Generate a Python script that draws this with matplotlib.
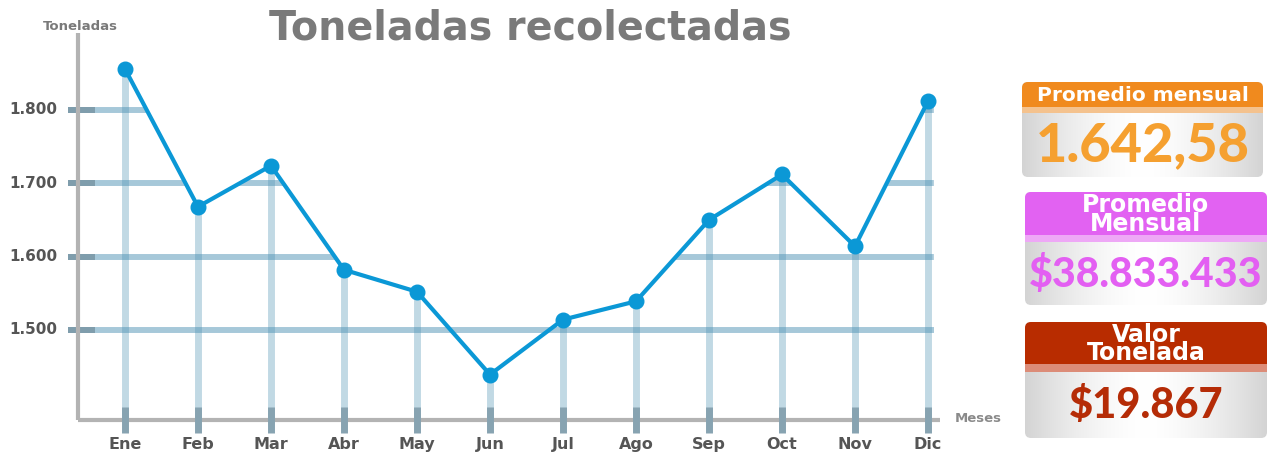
import numpy as np
import matplotlib
matplotlib.use("Agg")
from matplotlib import pyplot as plt
from matplotlib.patches import FancyBboxPatch, Polygon, Rectangle

# datos
meses = ["Ene", "Feb", "Mar", "Abr", "May", "Jun", "Jul", "Ago", "Sep", "Oct", "Nov", "Dic"]
toneladas = [1856, 1668, 1724, 1582, 1552, 1439, 1514, 1539, 1650, 1712, 1614, 1812]
y_ticks = [1500, 1600, 1700, 1800]
y_tick_labels = ["1.500", "1.600", "1.700", "1.800"]

titulo = "Toneladas recolectadas"
tarjetas = [
    ("Promedio mensual", "1.642,58"),
    ("Promedio\nMensual", "$38.833.433"),
    ("Valor\nTonelada", "$19.867"),
]

plt.rcParams['font.family'] = ['DejaVu Sans']
W, H = 1270, 455
fig = plt.figure(figsize=(W / 100, H / 100), dpi=100)

# ejes principales (en pixeles: x 60-945, y 30-435)
ax = fig.add_axes([60 / W, 1 - 435 / H, 885 / W, 405 / H])
ax.set_xlim(-0.890, 11.233)
ax.set_ylim(1356.6, 1909.1)
ax.axis('off')

x = np.arange(len(meses))
base = 1377.1
xl, xr = -0.644, 11.164

# lineas horizontales recortadas bajo la curva (la mas baja entera)
clip_verts = [(-0.8, toneladas[0])] + list(zip(x, toneladas)) + \
             [(11.08, toneladas[-1]), (11.08, 1300), (-0.8, 1300)]
clip_poly = Polygon(clip_verts, transform=ax.transData, fill=False, visible=False)
ax.add_patch(clip_poly)
for k, (yv, lab) in enumerate(zip(y_ticks, y_tick_labels)):
    ln, = ax.plot([-0.78, 11.08], [yv, yv], color='#4f93b4', alpha=0.5, lw=4.3,
                  solid_capstyle='butt', zorder=1)
    if k > 0:
        ln.set_clip_path(clip_poly)
    ax.plot([-0.78, -0.41], [yv, yv], color='#7f9dac', lw=4.3,
            solid_capstyle='butt', zorder=2)
    ax.text(-0.92, yv, lab, ha='right', va='center',
            fontsize=11, fontweight='bold', color='#555555', clip_on=False)

# barras verticales
for xi, yv in zip(x, toneladas):
    ax.plot([xi, xi], [base, yv], color='#4f93b4', alpha=0.35, lw=5,
            solid_capstyle='butt', zorder=1)
    ax.plot([xi, xi], [1360, 1395], color='#87a3b1', lw=5,
            solid_capstyle='butt', zorder=3)
    ax.text(xi, 1344, meses[xi], ha='center', va='center', fontsize=11.5,
            fontweight='bold', color='#555555', clip_on=False)

# ejes grises
ax.plot([xl, xl], [base, 1905], color='#b3b3b3', lw=3, solid_capstyle='butt', zorder=2)
ax.plot([xl, xr], [base, base], color='#b3b3b3', lw=3, solid_capstyle='butt', zorder=2)

# curva
ax.plot(x, toneladas, color='#0b98d6', lw=3, marker='o', markersize=10.5, zorder=5)

# textos
fig.text(80 / W, 1 - 27 / H, "Toneladas", ha='center', va='center', fontsize=9.5,
         fontweight='bold', color='#7a7a7a')
fig.text(978 / W, 1 - 419 / H, "Meses", ha='center', va='center', fontsize=9.5,
         fontweight='bold', color='#8a8a8a')
fig.text(530 / W, 1 - 28 / H, titulo, ha='center', va='center', fontsize=28.5,
         fontweight='bold', color='#7a7a7a')

# tarjetas laterales
ov = fig.add_axes([0, 0, 1, 1])
ov.set_facecolor('none')
ov.axis('off')

cajas = [  # x0, x1, top, header bottom, stripe bottom, bottom
    (1022, 1263, 82, 107, 113, 177),
    (1025, 1267, 192, 235, 242, 305),
    (1025, 1267, 322, 364, 372, 438),
]
color_head = ['#f08a1e', '#e262f2', '#b82c00']
color_strip = ['#f4c28e', '#eea8f6', '#dc8c78']
color_val = ['#f5a030', '#e35ff2', '#b52c07']
val_size = [39, 29.5, 30]
head_size = [14.5, 17, 17]

t = np.linspace(-1, 1, 300)
grad = 1 - 0.17 * np.abs(t) ** 1.6
grad_img = np.dstack([grad, grad, grad])  # shape (1, 300, 3)

for i, (x0, x1, y0, yh, ys, y1) in enumerate(cajas):
    box = FancyBboxPatch((x0, y0), x1 - x0, y1 - y0, boxstyle="round,pad=0,rounding_size=6",
                         facecolor='none', edgecolor='none')
    ov.add_patch(box)
    im = ov.imshow(grad_img, extent=(x0, x1, y1, y0), aspect='auto', zorder=1)
    im.set_clip_path(box)
    r = Rectangle((x0, y0), x1 - x0, yh - y0, facecolor=color_head[i], edgecolor='none', zorder=2)
    ov.add_patch(r)
    r.set_clip_path(box)
    s = Rectangle((x0, yh), x1 - x0, ys - yh, facecolor=color_strip[i], edgecolor='none', zorder=2)
    ov.add_patch(s)
    s.set_clip_path(box)
    titulo_c, valor = tarjetas[i]
    ov.text((x0 + x1) / 2, (y0 + yh) / 2 + 1, titulo_c, ha='center', va='center',
            fontsize=head_size[i], fontweight='bold', color='white', linespacing=0.72, zorder=3)
    ov.text((x0 + x1) / 2, (ys + y1) / 2 + 1, valor, ha='center', va='center',
            fontsize=val_size[i], fontweight='black', color=color_val[i],
            family=['Lato', 'DejaVu Sans'], zorder=3)

ov.set_xlim(0, W)
ov.set_ylim(H, 0)

fig.savefig("out.png", dpi=100)
